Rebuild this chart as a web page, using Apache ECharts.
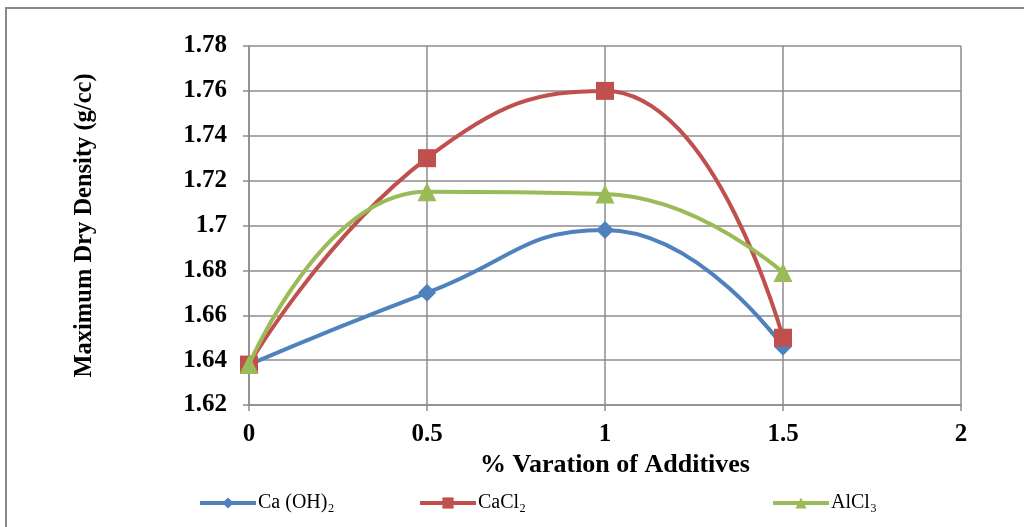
<!DOCTYPE html>
<html>
<head>
<meta charset="utf-8">
<script src="https://cdn.jsdelivr.net/npm/echarts@6/dist/echarts.min.js"></script>
<style>
  html, body { margin: 0; padding: 0; background: #fff; }
  #main { width: 1024px; height: 527px; }
</style>
</head>
<body>
<div id="main"></div>
<script>
var additives = [0, 0.5, 1, 1.5];
var caOH2 = [1.638, 1.670, 1.698, 1.646];
var caCl2 = [1.638, 1.730, 1.760, 1.650];
var alCl3 = [1.638, 1.715, 1.714, 1.679];
var seriesNames = ['Ca (OH)\u2082', 'CaCl\u2082', 'AlCl\u2083'];

function pairs(xs, ys) {
    return xs.map(function (x, i) { return [x, ys[i]]; });
}

var myChart = echarts.init(document.getElementById('main'));

var serif = '"Liberation Serif", "Times New Roman", "DejaVu Serif", serif';
var gridColor = '#8c8c8c';

var legendBase = {
    top: 488,
    itemWidth: 56,
    itemHeight: 14,
    itemGap: 0,
    lineStyle: { width: 4 },
    textStyle: { fontFamily: serif, fontSize: 20, color: '#000', padding: [0, 0, 0, -3] }
};

var option = {
    animation: false,
    color: ['#4F81BD', '#C0504D', '#9BBB59'],
    grid: { left: 249, right: 63, top: 46, bottom: 122 },
    legend: [
        Object.assign({ left: 193, data: [seriesNames[0]] }, legendBase),
        Object.assign({ left: 413, data: [seriesNames[1]] }, legendBase),
        Object.assign({ left: 766, data: [seriesNames[2]] }, legendBase)
    ],
    graphic: [{
        type: 'polyline',
        shape: { points: [[6, 527], [6, 8], [1024, 8]] },
        style: { stroke: '#8a8a8a', lineWidth: 2, fill: null },
        silent: true
    }],
    xAxis: {
        type: 'value',
        min: 0,
        max: 2,
        interval: 0.5,
        name: '% Varation of Additives',
        nameLocation: 'middle',
        nameGap: 47,
        nameTextStyle: { fontFamily: serif, fontSize: 26, fontWeight: 'bold', color: '#000', padding: [0, 0, 0, 20] },
        axisLine: { show: true, lineStyle: { color: gridColor, width: 1.5 } },
        axisTick: { show: true, length: 6, lineStyle: { color: gridColor, width: 1.5 } },
        axisLabel: { fontFamily: serif, fontSize: 25, fontWeight: 'bold', color: '#000', margin: 17 },
        splitLine: { show: true, lineStyle: { color: gridColor, width: 1.5 } }
    },
    yAxis: {
        type: 'value',
        min: 1.62,
        max: 1.78,
        interval: 0.02,
        name: 'Maximum Dry Density (g/cc)',
        nameLocation: 'middle',
        nameGap: 152,
        nameTextStyle: { fontFamily: serif, fontSize: 24.5, fontWeight: 'bold', color: '#000' },
        axisLine: { show: true, lineStyle: { color: gridColor, width: 1.5 } },
        axisTick: { show: true, length: 6, lineStyle: { color: gridColor, width: 1.5 } },
        axisLabel: {
            fontFamily: serif, fontSize: 25, fontWeight: 'bold', color: '#000', margin: 22,
            formatter: function (v) { return String(parseFloat(v.toFixed(2))); }
        },
        splitLine: { show: true, lineStyle: { color: gridColor, width: 1.5 } }
    },
    series: [
        {
            name: seriesNames[0],
            type: 'line',
            data: pairs(additives, caOH2),
            smooth: 0.5,
            smoothConstraint: false,
            symbol: 'diamond',
            symbolSize: 18,
            lineStyle: { width: 4 },
            z: 2
        },
        {
            name: seriesNames[1],
            type: 'line',
            data: pairs(additives, caCl2),
            smooth: 0.5,
            smoothConstraint: false,
            symbol: 'rect',
            symbolSize: 18,
            lineStyle: { width: 4 },
            z: 3
        },
        {
            name: seriesNames[2],
            type: 'line',
            data: pairs(additives, alCl3),
            smooth: 0.5,
            smoothConstraint: false,
            symbol: 'triangle',
            symbolSize: 19,
            lineStyle: { width: 4 },
            z: 4
        }
    ]
};

myChart.setOption(option);
</script>
</body>
</html>
